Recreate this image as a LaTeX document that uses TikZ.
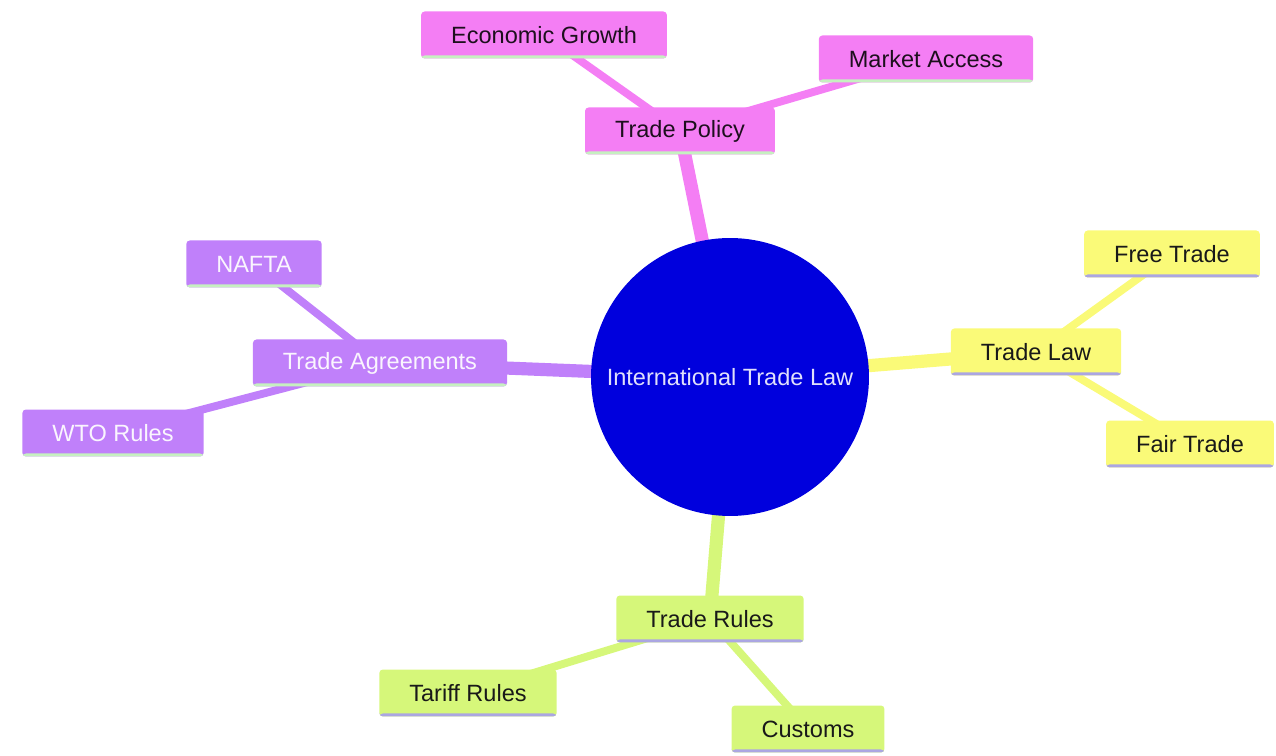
\documentclass[tikz,border=0pt]{standalone}
\usepackage{fontspec}
\setmainfont{Liberation Sans}
\usepackage{xcolor}
\usetikzlibrary{positioning, backgrounds}
\definecolor{rootblue}{HTML}{0000DD}
\definecolor{policypink}{HTML}{F47EF4}
\definecolor{lawyellow}{HTML}{FAFA78}
\definecolor{agreepurple}{HTML}{C080FA}
\definecolor{rulesgreen}{HTML}{D6F77A}
\definecolor{mintline}{HTML}{C6F0C0}
\definecolor{lilacline}{HTML}{ABA6E2}
\tikzset{
    topic/.style={rectangle, rounded corners=2pt, minimum height=0.94cm, inner xsep=0.6cm, font=\fontsize{13.4}{16}\selectfont},
    bottomrule/.style={path picture={\fill[#1] (path picture bounding box.south west) rectangle ([yshift=0.06cm]path picture bounding box.south east);}},
    policy/.style={topic, fill=policypink, text=black!70!policypink!40!black, bottomrule=mintline},
    lawbox/.style={topic, fill=lawyellow, text=black!90, bottomrule=lilacline},
    agree/.style={topic, fill=agreepurple, text=white!92!agreepurple, bottomrule=mintline},
    rules/.style={topic, fill=rulesgreen, text=black!90, bottomrule=lilacline},
    root/.style={circle, fill=rootblue, minimum size=5.56cm, inner sep=0pt, text=white!88!rootblue, font=\fontsize{13.4}{16}\selectfont},
    trunk/.style={line width=7.5pt},
    twig/.style={line width=4.5pt}
}

\begin{document}
\begin{tikzpicture}[x=0.02cm, y=-0.02cm]
    \useasboundingbox (0,0) rectangle (1276,756);

    % Centre
    \node[root] (itl) at (730, 377) {International Trade Law};

    % Trade Policy branch
    \node[policy] (policy) at (680, 131) {Trade Policy};
    \node[policy] (growth) at (544, 35) {Economic Growth};
    \node[policy] (access) at (926, 59) {Market Access};

    % Trade Law branch
    \node[lawbox] (law) at (1036, 352) {Trade Law};
    \node[lawbox] (free) at (1172, 254) {Free Trade};
    \node[lawbox] (fair) at (1190, 444) {Fair Trade};

    % Trade Agreements branch
    \node[agree] (agreements) at (380, 363) {Trade Agreements};
    \node[agree] (nafta) at (254, 264) {NAFTA};
    \node[agree] (wto) at (113, 433) {WTO Rules};

    % Trade Rules branch
    \node[rules] (rules) at (710, 619) {Trade Rules};
    \node[rules] (tariff) at (468, 693) {Tariff Rules};
    \node[rules] (customs) at (808, 729) {Customs};

    % Connections
    \begin{scope}[on background layer]
        \draw[trunk, policypink] (itl.center) -- (policy.center);
        \draw[trunk, lawyellow] (itl.center) -- (law.center);
        \draw[trunk, agreepurple] (itl.center) -- (agreements.center);
        \draw[trunk, rulesgreen] (itl.center) -- (rules.center);

        \draw[twig, policypink] (policy.center) -- (growth.center);
        \draw[twig, policypink] (policy.center) -- (access.center);
        \draw[twig, lawyellow] (law.center) -- (free.center);
        \draw[twig, lawyellow] (law.center) -- (fair.center);
        \draw[twig, agreepurple] (agreements.center) -- (nafta.center);
        \draw[twig, agreepurple] (agreements.center) -- (wto.center);
        \draw[twig, rulesgreen] (rules.center) -- (tariff.center);
        \draw[twig, rulesgreen] (rules.center) -- (customs.center);
    \end{scope}
\end{tikzpicture}
\end{document}
